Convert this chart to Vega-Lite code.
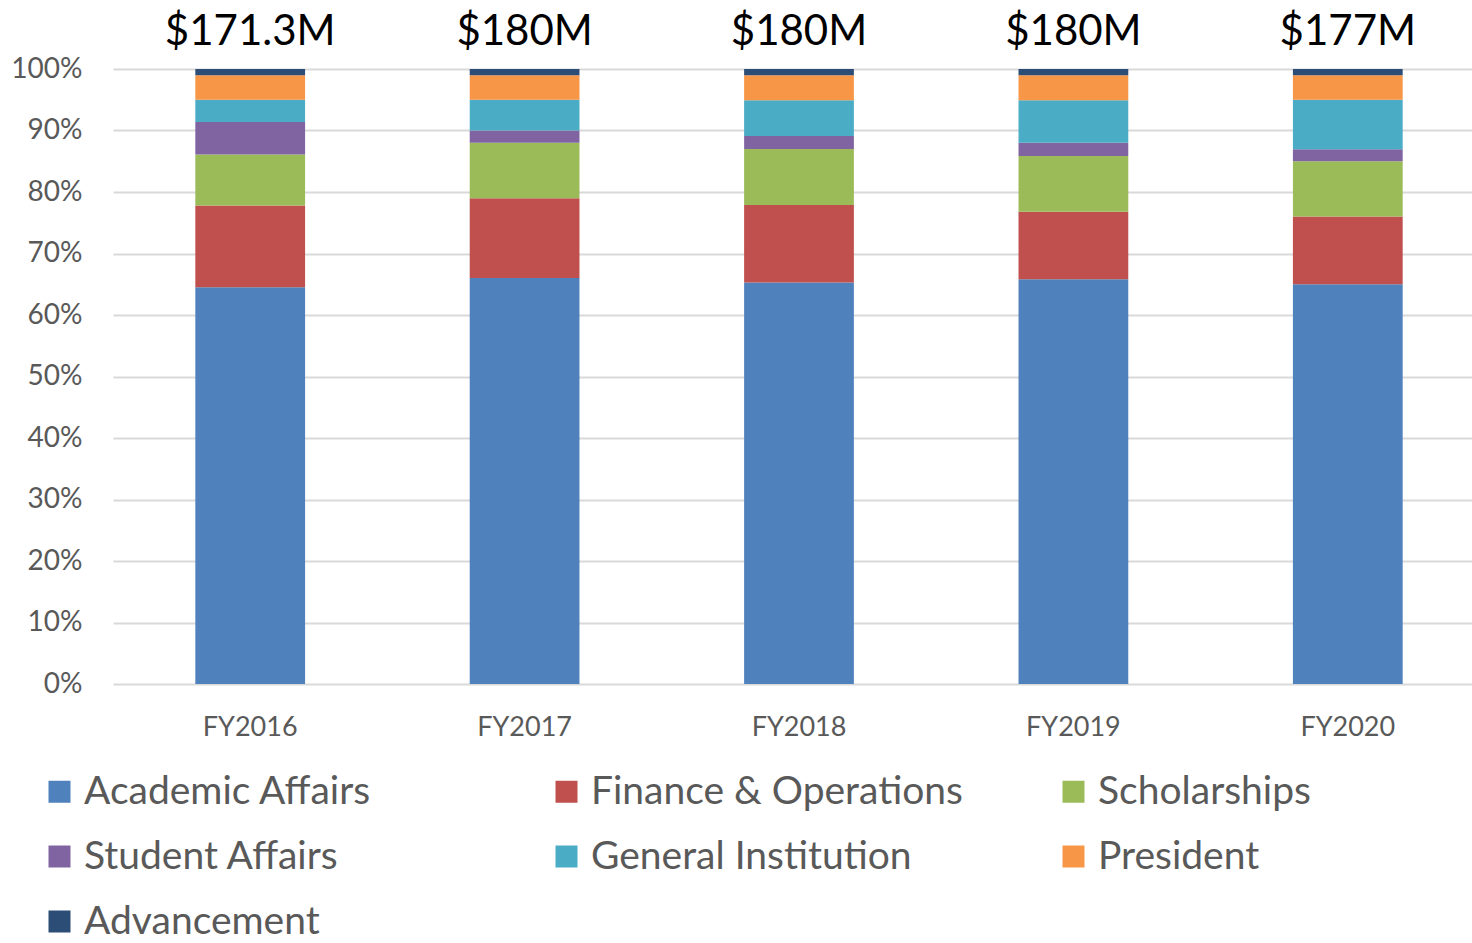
{
  "$schema": "https://vega.github.io/schema/vega-lite/v6.json",
  "autosize": "none",
  "width": 1372,
  "height": 615,
  "padding": {"left": 113, "top": 69, "right": 0, "bottom": 259},
  "background": "white",
  "config": {"view": {"stroke": null}, "font": "Lato"},
  "datasets": {
    "shares": [
      {"year": "FY2016", "dept": "Academic Affairs", "pct": 64.5},
      {"year": "FY2016", "dept": "Finance & Operations", "pct": 13.3},
      {"year": "FY2016", "dept": "Scholarships", "pct": 8.3},
      {"year": "FY2016", "dept": "Student Affairs", "pct": 5.3},
      {"year": "FY2016", "dept": "General Institution", "pct": 3.6},
      {"year": "FY2016", "dept": "President", "pct": 4.0},
      {"year": "FY2016", "dept": "Advancement", "pct": 1.0},
      {"year": "FY2017", "dept": "Academic Affairs", "pct": 66.0},
      {"year": "FY2017", "dept": "Finance & Operations", "pct": 13.0},
      {"year": "FY2017", "dept": "Scholarships", "pct": 9.0},
      {"year": "FY2017", "dept": "Student Affairs", "pct": 2.0},
      {"year": "FY2017", "dept": "General Institution", "pct": 5.0},
      {"year": "FY2017", "dept": "President", "pct": 4.0},
      {"year": "FY2017", "dept": "Advancement", "pct": 1.0},
      {"year": "FY2018", "dept": "Academic Affairs", "pct": 65.3},
      {"year": "FY2018", "dept": "Finance & Operations", "pct": 12.6},
      {"year": "FY2018", "dept": "Scholarships", "pct": 9.1},
      {"year": "FY2018", "dept": "Student Affairs", "pct": 2.1},
      {"year": "FY2018", "dept": "General Institution", "pct": 5.8},
      {"year": "FY2018", "dept": "President", "pct": 4.1},
      {"year": "FY2018", "dept": "Advancement", "pct": 1.0},
      {"year": "FY2019", "dept": "Academic Affairs", "pct": 65.8},
      {"year": "FY2019", "dept": "Finance & Operations", "pct": 11.0},
      {"year": "FY2019", "dept": "Scholarships", "pct": 9.05},
      {"year": "FY2019", "dept": "Student Affairs", "pct": 2.15},
      {"year": "FY2019", "dept": "General Institution", "pct": 6.9},
      {"year": "FY2019", "dept": "President", "pct": 4.1},
      {"year": "FY2019", "dept": "Advancement", "pct": 1.0},
      {"year": "FY2020", "dept": "Academic Affairs", "pct": 65.0},
      {"year": "FY2020", "dept": "Finance & Operations", "pct": 11.0},
      {"year": "FY2020", "dept": "Scholarships", "pct": 9.0},
      {"year": "FY2020", "dept": "Student Affairs", "pct": 1.95},
      {"year": "FY2020", "dept": "General Institution", "pct": 8.05},
      {"year": "FY2020", "dept": "President", "pct": 4.0},
      {"year": "FY2020", "dept": "Advancement", "pct": 1.0}
    ],
    "totals": [
      {"year": "FY2016", "label": "$171.3M", "top": 100},
      {"year": "FY2017", "label": "$180M", "top": 100},
      {"year": "FY2018", "label": "$180M", "top": 100},
      {"year": "FY2019", "label": "$180M", "top": 100},
      {"year": "FY2020", "label": "$177M", "top": 100}
    ]
  },
  "layer": [
    {
      "data": {"name": "shares"},
      "transform": [
        {"calculate": "indexof(['Academic Affairs', 'Finance & Operations', 'Scholarships', 'Student Affairs', 'General Institution', 'President', 'Advancement'], datum.dept)", "as": "ord"}
      ],
      "mark": {"type": "bar"},
      "encoding": {
        "x": {
          "field": "year", "type": "nominal",
          "scale": {"paddingInner": 0.6, "paddingOuter": 0.3},
          "axis": {"title": null, "labelAngle": 0, "labelFontSize": 27, "labelColor": "#595959", "labelPadding": 30, "ticks": false, "domain": false, "grid": false}
        },
        "y": {
          "field": "pct", "type": "quantitative", "stack": "zero",
          "scale": {"domain": [0, 100], "nice": false},
          "axis": {"title": null, "values": [0,10,20,30,40,50,60,70,80,90,100], "labelExpr": "datum.value + '%'", "labelFontSize": 28, "labelColor": "#595959", "labelPadding": 31, "ticks": false, "domain": false, "gridColor": "#d9d9d9", "gridWidth": 2}
        },
        "order": {"field": "ord", "type": "quantitative", "sort": "ascending"},
        "color": {
          "field": "dept", "type": "nominal",
          "sort": ["Academic Affairs", "Finance & Operations", "Scholarships", "Student Affairs", "General Institution", "President", "Advancement"],
          "scale": {
            "domain": ["Academic Affairs", "Finance & Operations", "Scholarships", "Student Affairs", "General Institution", "President", "Advancement"],
            "range": ["#4f81bd", "#c0504d", "#9bbb59", "#8064a2", "#4bacc6", "#f79646", "#2c4d75"]
          },
          "legend": {
            "title": null, "orient": "none", "legendX": -73, "legendY": 703,
            "direction": "horizontal", "columns": 3, "gridAlign": "all",
            "symbolType": "square", "symbolSize": 484, "symbolStrokeWidth": 0,
            "labelFontSize": 39, "labelColor": "#595959", "labelOffset": 5, "labelLimit": 600,
            "columnPadding": 91, "rowPadding": 25
          }
        }
      }
    },
    {
      "data": {"name": "totals"},
      "mark": {"type": "text", "fontSize": 42, "color": "#000000", "baseline": "alphabetic", "dy": -24},
      "encoding": {
        "x": {"field": "year", "type": "nominal"},
        "y": {"field": "top", "type": "quantitative"},
        "text": {"field": "label"}
      }
    }
  ]
}
